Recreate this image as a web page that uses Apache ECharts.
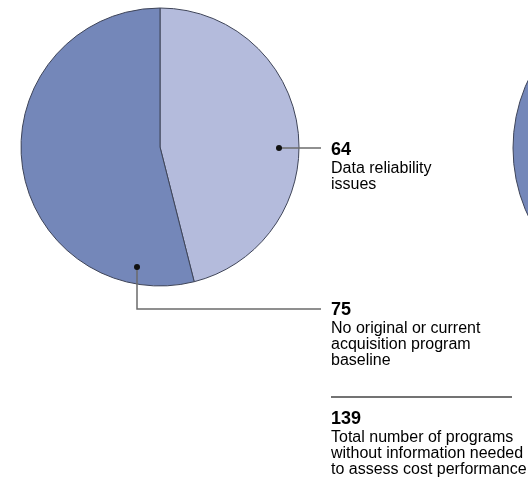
<!DOCTYPE html>
<html>
<head>
<meta charset="utf-8">
<script src="https://cdn.jsdelivr.net/npm/echarts@6/dist/echarts.min.js"></script>
<style>
  html, body { margin: 0; padding: 0; background: #fff; }
  #chart { width: 528px; height: 483px; }
</style>
</head>
<body>
<div id="chart"></div>
<script>
// slices of the main pie, clockwise from 12 o'clock
const categories = ['Data reliability\nissues', 'No original or current\nacquisition program\nbaseline']
const values = [64, 75]
const sliceColors = ['#b4bbdc', '#7487b9']
const totalLabel = 'Total number of programs\nwithout information needed\nto assess cost performance'

// the neighbouring pie, cut off by the right edge
const partialPieValues = [100]

const FONT = '"Liberation Sans", Arial, sans-serif'
const center = [160, 147]
const radius = 139

// leader lines (first point is the dot) and label top-left corners
const linePaths = [
  [[279, 148], [321, 148]],
  [[137, 267], [137, 309], [321, 309]]
]
const labelPos = [[331, 141], [331, 301]]

const total = values.reduce((a, b) => a + b, 0)

const rich = {
  n: { fontFamily: FONT, fontSize: 18, fontWeight: 'bold', color: '#1a1a1a', lineHeight: 22 },
  t: { fontFamily: FONT, fontSize: 16, color: '#333', lineHeight: 16 }
}
const richText = (num, txt) => '{n|' + num + '}\n{t|' + txt.split('\n').join('}\n{t|') + '}'

const chart = echarts.init(document.getElementById('chart'))

const option = {
  animation: false,
  series: [
    {
      type: 'pie',
      center: center,
      radius: radius,
      startAngle: 90,
      clockwise: true,
      silent: true,
      itemStyle: { borderColor: '#3e4458', borderWidth: 1 },
      label: { show: false },
      labelLine: { show: false },
      data: values.map((v, i) => ({
        value: v,
        name: categories[i],
        itemStyle: { color: sliceColors[i] }
      }))
    },
    {
      type: 'pie',
      center: [673, 148],
      radius: 160,
      silent: true,
      label: { show: false },
      labelLine: { show: false },
      itemStyle: { color: '#7487b9', borderColor: '#3e4458', borderWidth: 1 },
      data: partialPieValues.map(v => ({ value: v }))
    }
  ],
  graphic: [
    ...linePaths.map(pts => ({
      type: 'polyline',
      shape: { points: pts },
      style: { stroke: '#6b6b6b', lineWidth: 1.5, fill: null },
      z: 100
    })),
    ...linePaths.map(pts => ({
      type: 'circle',
      shape: { cx: pts[0][0], cy: pts[0][1], r: 3 },
      style: { fill: '#111' },
      z: 101
    })),
    ...values.map((v, i) => ({
      type: 'text',
      left: labelPos[i][0],
      top: labelPos[i][1],
      style: { text: richText(v, categories[i]), rich: rich },
      z: 100
    })),
    {
      type: 'line',
      shape: { x1: 331, y1: 397, x2: 512, y2: 397 },
      style: { stroke: '#444', lineWidth: 1.5 }
    },
    {
      type: 'text',
      left: 331,
      top: 410,
      style: { text: richText(total, totalLabel), rich: rich }
    }
  ]
}

chart.setOption(option)
window.addEventListener('resize', () => chart.resize())
</script>
</body>
</html>
